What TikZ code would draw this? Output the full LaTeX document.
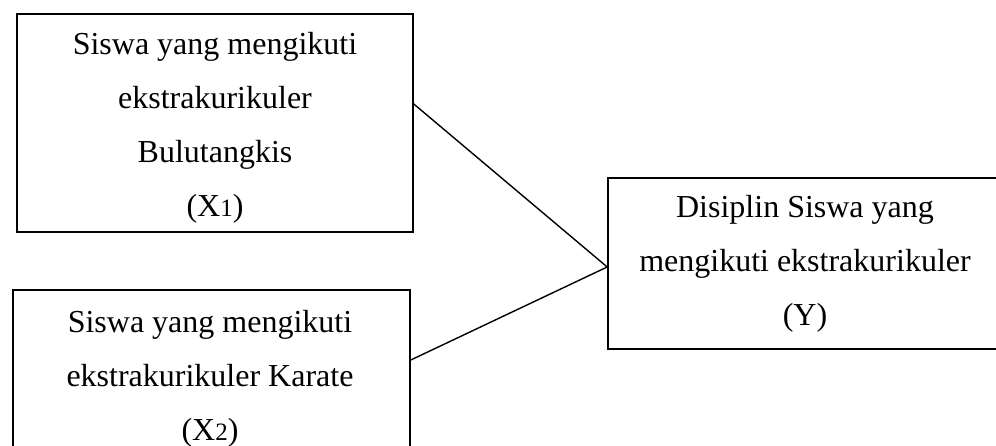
\documentclass[tikz,border=0pt]{standalone}
\usepackage{fontspec}
\setmainfont{Liberation Serif}
\usetikzlibrary{positioning}
\tikzset{
	varbox/.style={draw, line width=1.6pt, inner sep=0pt},
	vartext/.style={font=\fontsize{32}{54}\selectfont, align=center, inner sep=0pt},
	link/.style={line width=1.4pt}
}
\def\sub#1{{\fontsize{25}{25}\selectfont #1}}

\begin{document}
\begin{tikzpicture}[x=1pt, y=1pt]
			%%%%% START %%%%%
			
			\clip (0, 0) rectangle (996, 446);
			
			% variabel X1
			\node[varbox, minimum width=396pt, minimum height=218pt] (xone) at (215, 323) {};
			\node[vartext, below=19pt of xone.north] (xonetext) {Siswa yang mengikuti\\ekstrakurikuler\\Bulutangkis\\(X\sub{1})};
			
			% variabel X2
			\node[varbox, minimum width=397pt, minimum height=170pt] (xtwo) at (211.5, 71) {};
			\node[vartext, below=21pt of xtwo.north, xshift=-1.5pt] (xtwotext) {Siswa yang mengikuti\\ekstrakurikuler Karate\\(X\sub{2})};
			
			% variabel Y
			\node[varbox, minimum width=394pt, minimum height=171pt] (disiplin) at (805, 182.5) {};
			\node[vartext, below=18pt of disiplin.north] (disiplintext) {Disiplin Siswa yang\\mengikuti ekstrakurikuler\\(Y)};
			
			\draw[link] ([yshift=19pt]xone.east) -- ([yshift=-3.5pt]disiplin.west);
			\draw[link] ([yshift=15pt]xtwo.east) -- ([yshift=-3.5pt]disiplin.west);
			
			%%%%% END %%%%%
\end{tikzpicture}
\end{document}
